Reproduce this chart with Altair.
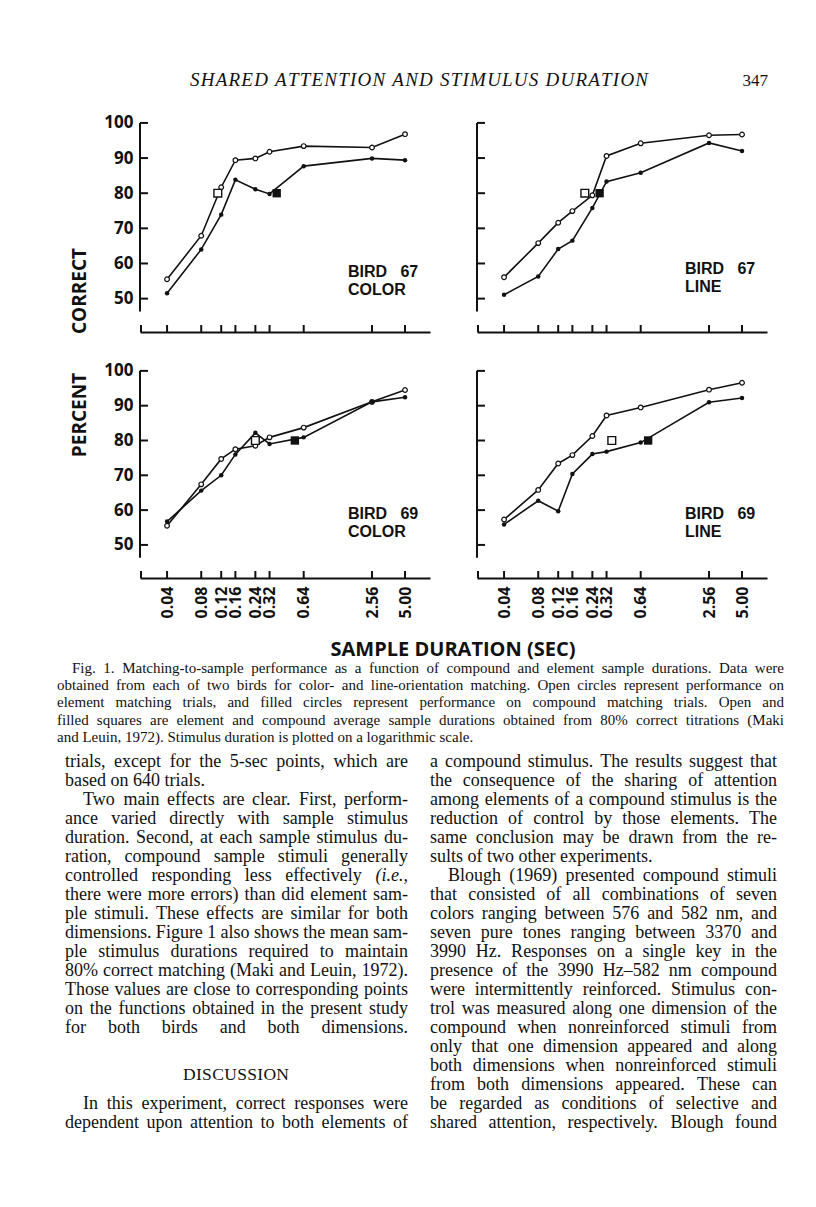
import altair as alt
import pandas as pd

# ---------------- data ----------------
durations = [0.04, 0.08, 0.12, 0.16, 0.24, 0.32, 0.64, 2.56, 5.00]
y_ticks = [50, 60, 70, 80, 90, 100]

b67_color_element = [55.5, 67.9, 81.7, 89.4, 89.9, 91.8, 93.4, 93.0, 96.8]
b67_color_compound = [51.5, 64.0, 73.9, 83.8, 81.1, 79.8, 87.7, 89.9, 89.4]
b67_line_element = [56.1, 65.8, 71.6, 74.9, 79.4, 90.6, 94.2, 96.5, 96.7]
b67_line_compound = [51.1, 56.3, 64.1, 66.5, 75.8, 83.3, 85.8, 94.3, 92.0]
b69_color_element = [55.5, 67.4, 74.7, 77.5, 78.5, 80.9, 83.7, 91.1, 94.5]
b69_color_compound = [56.7, 65.6, 70.0, 76.0, 82.2, 79.0, 80.9, 91.1, 92.4]
b69_line_element = [57.3, 65.8, 73.4, 75.8, 81.3, 87.2, 89.5, 94.6, 96.6]
b69_line_compound = [55.9, 62.7, 59.7, 70.4, 76.1, 76.8, 79.4, 91.0, 92.2]

element_series = [b67_color_element, b67_line_element, b69_color_element, b69_line_element]
compound_series = [b67_color_compound, b67_line_compound, b69_color_compound, b69_line_compound]

square_element_dur = [0.112, 0.206, 0.24, 0.356]
square_compound_dur = [0.37, 0.278, 0.535, 0.744]
square_pct = [80, 80, 80, 80]

bird_names = ["BIRD\u00a0\u00a0\u00a067", "BIRD\u00a0\u00a0\u00a067", "BIRD\u00a0\u00a0\u00a069", "BIRD\u00a0\u00a0\u00a069"]
dimension_names = ["COLOR", "LINE", "COLOR", "LINE"]

running_head = "SHARED ATTENTION AND STIMULUS DURATION"
page_number = "347"
y_title_top = "CORRECT"
y_title_bottom = "PERCENT"
x_title = "SAMPLE DURATION (SEC)"

caption_lines = [
    "Fig. 1. Matching-to-sample performance as a function of compound and element sample durations. Data were",
    "obtained from each of two birds for color- and line-orientation matching. Open circles represent performance on",
    "element matching trials, and filled circles represent performance on compound matching trials. Open and",
    "filled squares are element and compound average sample durations obtained from 80% correct titrations (Maki",
    "and Leuin, 1972). Stimulus duration is plotted on a logarithmic scale.",
]

left_column_lines = [
    "trials, except for the 5-sec points, which are",
    "based on 640 trials.",
    "  Two main effects are clear. First, perform-",
    "ance varied directly with sample stimulus",
    "duration. Second, at each sample stimulus du-",
    "ration, compound sample stimuli generally",
    "controlled responding less effectively (i.e.,",
    "there were more errors) than did element sam-",
    "ple stimuli. These effects are similar for both",
    "dimensions. Figure 1 also shows the mean sam-",
    "ple stimulus durations required to maintain",
    "80% correct matching (Maki and Leuin, 1972).",
    "Those values are close to corresponding points",
    "on the functions obtained in the present study",
    "for both birds and both dimensions.",
]
discussion_heading = "DISCUSSION"
left_column_tail = [
    "  In this experiment, correct responses were",
    "dependent upon attention to both elements of",
]
right_column_lines = [
    "a compound stimulus. The results suggest that",
    "the consequence of the sharing of attention",
    "among elements of a compound stimulus is the",
    "reduction of control by those elements. The",
    "same conclusion may be drawn from the re-",
    "sults of two other experiments.",
    "  Blough (1969) presented compound stimuli",
    "that consisted of all combinations of seven",
    "colors ranging between 576 and 582 nm, and",
    "seven pure tones ranging between 3370 and",
    "3990 Hz. Responses on a single key in the",
    "presence of the 3990 Hz\u2013582 nm compound",
    "were intermittently reinforced. Stimulus con-",
    "trol was measured along one dimension of the",
    "compound when nonreinforced stimuli from",
    "only that one dimension appeared and along",
    "both dimensions when nonreinforced stimuli",
    "from both dimensions appeared. These can",
    "be regarded as conditions of selective and",
    "shared attention, respectively. Blough found",
]

# ---------------- styling / layout ----------------
INK = "#111111"
SANS = "Open Sans"
LABEL_SANS = "Liberation Sans"
SERIF = "Liberation Serif"
W = 290
H_TOP = 214
H_BOT = 212
XDOM = [0.0231, 8.3]
YDOM = [40.5, 101.4]
P1_ORIGIN = (140, 118)
P3_ORIGIN = (140, 366)

# Times metrics (per 1000 em) used for justification with Liberation Serif
_ROMAN = {" ": 250, "!": 333, "%": 833, "(": 333, ")": 333, ",": 250, "-": 333, ".": 250,
          ":": 278, ";": 278, "\u2013": 500}
for c in "0123456789":
    _ROMAN[c] = 500
_ROMAN.update(dict(zip("ABCDEFGHIJKLMNOPQRSTUVWXYZ",
                       [722, 667, 667, 722, 611, 556, 722, 722, 333, 389, 722, 611, 889, 722, 722, 556,
                        722, 667, 556, 611, 722, 722, 944, 722, 722, 611])))
_ROMAN.update(dict(zip("abcdefghijklmnopqrstuvwxyz",
                       [444, 500, 444, 500, 444, 333, 500, 500, 278, 278, 500, 278, 778, 500, 500, 500,
                        500, 333, 389, 278, 500, 500, 722, 500, 500, 444])))
_ITALIC = dict(_ROMAN)
_ITALIC.update(dict(zip("ABCDEFGHIJKLMNOPQRSTUVWXYZ",
                        [611, 611, 667, 722, 611, 611, 722, 722, 333, 444, 667, 556, 833, 667, 722, 611,
                         722, 611, 500, 556, 722, 611, 833, 611, 556, 556])))
_ITALIC.update(dict(zip("abcdefghijklmnopqrstuvwxyz",
                        [500, 500, 444, 500, 444, 278, 500, 500, 278, 278, 444, 278, 722, 500, 500, 500,
                         500, 389, 389, 278, 500, 444, 667, 444, 444, 389])))


def width_of(s, size, italic=False):
    tbl = _ITALIC if italic else _ROMAN
    return sum(tbl.get(c, 500) for c in s) * size / 1000.0


def justify(line, x0, x1, y, size, do_justify):
    words = line.split(" ")
    ws = [width_of(w, size, "i.e." in w) for w in words]
    if do_justify and len(words) > 1:
        gap = max((x1 - x0 - sum(ws)) / (len(words) - 1), 0.18 * size)
    else:
        gap = 0.25 * size
    out = []
    x = x0
    for w, wd in zip(words, ws):
        out.append((x, y, w, "i.e." in w))
        x += wd + gap
    return out


def track(text, x0, x1, y, size, italic):
    tbl = _ITALIC if italic else _ROMAN
    ws = [tbl.get(c, 500) * size / 1000.0 for c in text]
    extra = (x1 - x0 - sum(ws)) / (len(text) - 1)
    out = []
    x = x0
    for c, wd in zip(text, ws):
        if c != " ":
            out.append((x, y, c))
        x += wd + extra
    return out


def column(lines, x0, x1, y0, step, size, indent):
    rows = []
    for k, raw in enumerate(lines):
        ind = raw.startswith("  ")
        txt = raw.strip()
        nxt = lines[k + 1] if k + 1 < len(lines) else None
        last_of_par = nxt is not None and nxt.startswith("  ")
        rows += justify(txt, x0 + (indent if ind else 0), x1, y0 + step * k, size, not last_of_par)
    return rows


def text_layer(rows, origin, font, size, weight="normal", style="normal", align="left", angle=0,
               baseline="alphabetic"):
    df = pd.DataFrame({"px": [r[0] - origin[0] for r in rows],
                       "py": [r[1] - origin[1] for r in rows],
                       "t": [r[2] for r in rows]})
    return alt.Chart(df).mark_text(font=font, fontSize=size, fontWeight=weight, fontStyle=style,
                                   align=align, baseline=baseline, angle=angle, color=INK).encode(
        x=alt.X("px:Q", scale=None), y=alt.Y("py:Q", scale=None), text="t:N")


def make_panel(i, h, show_y, show_x, label_y, extra):
    xaxis = alt.Axis(values=durations, format=".2f", labels=show_x, ticks=False, grid=False,
                     domain=True, domainColor=INK, domainWidth=2, labelAngle=270, labelFont=SANS,
                     labelFontWeight="bold", labelFontSize=16, labelColor=INK, labelPadding=8,
                     labelOverlap=False, labelFlush=False, title=None)
    yaxis = alt.Axis(values=y_ticks, labels=show_y, ticks=False, grid=False, domain=False,
                     labelFont=SANS, labelFontWeight="bold", labelFontSize=17, labelColor=INK,
                     labelPadding=7, labelOverlap=False, labelFlush=False, title=None)

    def X(f):
        return alt.X(f, scale=alt.Scale(type="log", domain=XDOM, nice=False), axis=xaxis)

    def Y(f):
        return alt.Y(f, scale=alt.Scale(domain=YDOM, nice=False, zero=False), axis=yaxis)

    df = pd.DataFrame({"dur": durations * 2,
                       "pct": element_series[i] + compound_series[i],
                       "kind": ["element"] * len(durations) + ["compound"] * len(durations)})
    base = alt.Chart(df)
    lines = base.mark_line(color=INK, strokeWidth=1.6).encode(
        x=X("dur:Q"), y=Y("pct:Q"), detail="kind:N")
    open_pts = base.transform_filter(alt.datum.kind == "element").mark_point(
        shape="circle", size=22, fill="white", stroke=INK, strokeWidth=1.2, opacity=1).encode(
        x=X("dur:Q"), y=Y("pct:Q"))
    filled_pts = base.transform_filter(alt.datum.kind == "compound").mark_point(
        shape="circle", size=20, filled=True, color=INK, opacity=1).encode(
        x=X("dur:Q"), y=Y("pct:Q"))
    sq_open = alt.Chart(pd.DataFrame({"dur": [square_element_dur[i]], "pct": [square_pct[i]]})).mark_point(
        shape="square", size=60, fill="white", stroke=INK, strokeWidth=1.4, opacity=1).encode(
        x=X("dur:Q"), y=Y("pct:Q"))
    sq_fill = alt.Chart(pd.DataFrame({"dur": [square_compound_dur[i]], "pct": [square_pct[i]]})).mark_point(
        shape="square", size=70, filled=True, color=INK, opacity=1).encode(
        x=X("dur:Q"), y=Y("pct:Q"))
    y_line = alt.Chart(pd.DataFrame({"pct": [100.0], "b": [46.3]})).mark_rule(color=INK, strokeWidth=2).encode(
        x=alt.value(0), y=Y("pct:Q"), y2="b:Q")
    y_tk = alt.Chart(pd.DataFrame({"pct": y_ticks})).mark_rule(color=INK, strokeWidth=2).encode(
        y=Y("pct:Q"), x=alt.value(0), x2=alt.value(8))
    x_tk = alt.Chart(pd.DataFrame({"dur": durations})).mark_rule(color=INK, strokeWidth=2).encode(
        x=X("dur:Q"), y=alt.value(h), y2=alt.value(h - 7))
    x_end = alt.Chart(pd.DataFrame({"a": [0]})).mark_rule(color=INK, strokeWidth=2).encode(
        x=alt.value(1), y=alt.value(h), y2=alt.value(h - 7))
    lab = alt.Chart(pd.DataFrame({"a": [0]})).mark_text(
        text=[bird_names[i], dimension_names[i]], lineHeight=18, font=LABEL_SANS, fontWeight="bold",
        fontSize=16, align="left", baseline="alphabetic", color=INK).encode(
        x=alt.value(208), y=alt.value(label_y))
    layers = [lines, y_line, y_tk, x_tk, x_end, open_pts, filled_pts, sq_open, sq_fill, lab] + extra
    return alt.layer(*layers).properties(width=W, height=h)


# ---------- page text (header, axis titles, caption, body) ----------
head_rows = track(running_head, 190, 648, 86, 19, True)
head_layer = text_layer(head_rows, P1_ORIGIN, SERIF, 19, style="italic")
num_layer = text_layer([(768, 86, page_number)], P1_ORIGIN, SERIF, 17, align="right")
ytitle_top = text_layer([(80, 291, y_title_top)], P1_ORIGIN, SANS, 19, weight="bold", align="center",
                        angle=270, baseline="middle")
# anchor that pins the page's top-left corner
anchor = alt.Chart(pd.DataFrame({"a": [0]})).mark_rule(color="white", strokeWidth=1).encode(
    x=alt.value(-131.5), x2=alt.value(-130.5), y=alt.value(-109.5), y2=alt.value(-109.5))

ytitle_bot = text_layer([(80, 415, y_title_bottom)], P3_ORIGIN, SANS, 19, weight="bold", align="center",
                        angle=270, baseline="middle")
xtitle = text_layer([(453, 656, x_title)], P3_ORIGIN, SANS, 20, weight="bold", align="center")

cap_rows = []
for k, ln in enumerate(caption_lines):
    cap_rows += justify(ln, 72 if k == 0 else 57, 784, 673 + 17.2 * k, 15, k < len(caption_lines) - 1)
caption_layer = text_layer(cap_rows, P3_ORIGIN, SERIF, 15)

body_rows = column(left_column_lines, 65, 408, 767, 19, 18, 18)
body_rows += column(left_column_tail, 65, 408, 767 + 19 * 18, 19, 18, 18)
body_rows += column(right_column_lines, 430, 777, 767, 19, 18, 18)
body_roman = [r for r in body_rows if not r[3]]
body_ital = [r for r in body_rows if r[3]]
body_layer = text_layer(body_roman, P3_ORIGIN, SERIF, 18)
body_ital_layer = text_layer(body_ital, P3_ORIGIN, SERIF, 18, style="italic")
disc_layer = text_layer(track(discussion_heading, 183, 289, 1080, 17.5, False), P3_ORIGIN, SERIF, 17.5)

p1 = make_panel(0, H_TOP, True, False, 277 - 118, [anchor, head_layer, num_layer, ytitle_top])
p2 = make_panel(1, H_TOP, False, False, 274 - 118, [])
p3 = make_panel(2, H_BOT, True, True, 519 - 366,
                [ytitle_bot, xtitle, caption_layer, body_layer, body_ital_layer, disc_layer])
p4 = make_panel(3, H_BOT, False, True, 519 - 366, [])

chart = alt.concat(p1, p2, p3, p4, columns=2, spacing={"row": 34, "column": 47},
                   bounds="flush").properties(padding=0, background="white").configure_view(stroke=None)

chart.save("out.html", embed_options={"renderer": "svg", "actions": False})
